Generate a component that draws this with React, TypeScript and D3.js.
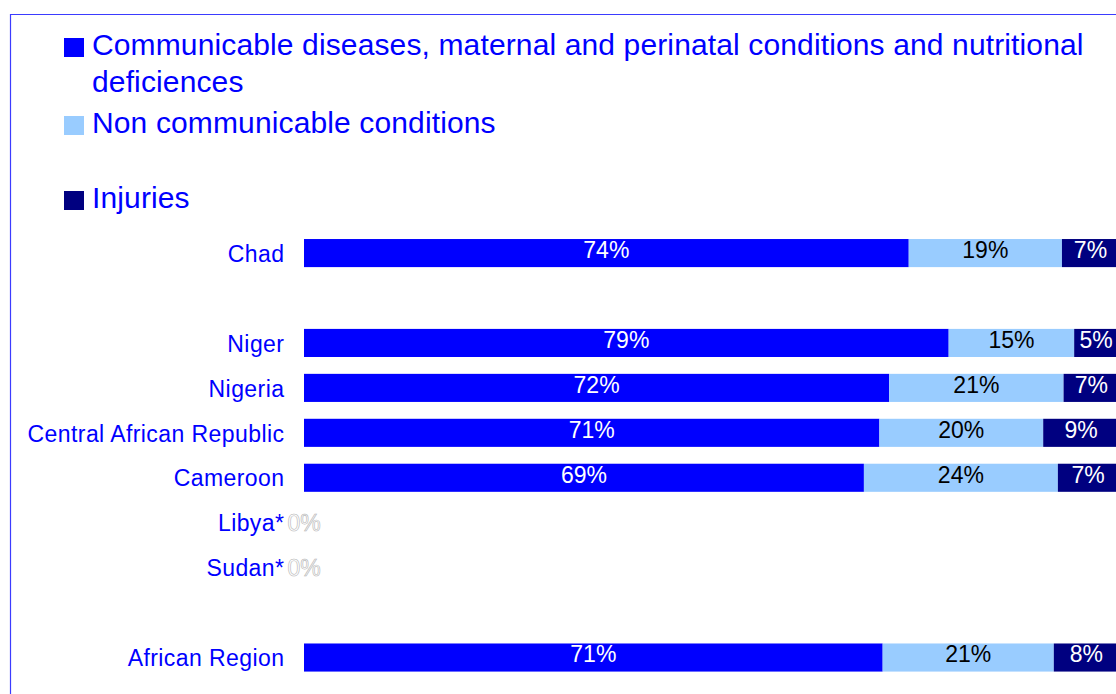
import React from "react";
import * as d3 from "d3";

const categories = ["Chad", "gap1", "Niger", "Nigeria", "Central African Republic", "Cameroon", "Libya*", "Sudan*", "gap2", "African Region"];
const communicable = [74.2, null, 79.1, 71.8, 70.6, 68.7, 0, 0, null, 71.0];
const nonCommunicable = [18.8, null, 15.4, 21.4, 20.1, 23.8, 0, 0, null, 21.0];
const injuries = [7.0, null, 5.4, 6.8, 9.3, 7.4, 0, 0, null, 8.0];
const seriesNames = [
  ["Communicable diseases, maternal and perinatal conditions and nutritional", "deficiences"],
  ["Non communicable conditions"],
  ["Injuries"],
];
const colors = ["#0000ff", "#99ccff", "#000080"];
const labelColors = ["#ffffff", "#000000", "#ffffff"];

const W = 1116;
const H = 694;
const FONT = "'Liberation Sans', Arial, sans-serif";

export default function App() {
  const x = d3.scaleLinear().domain([0, 100]).range([304, 1119]);
  const y = d3.scaleBand().domain(categories).range([230.6, 680.0]).paddingInner(0.375).paddingOuter(0.1875);
  const series = [communicable, nonCommunicable, injuries];
  const legendY = [55, 133, 208];

  return (
    <svg width={W} height={H} style={{ position: "absolute", left: 0, top: 0 }} fontFamily={FONT}>
      <rect width={W} height={H} fill="#ffffff" />
      <line x1={10} x2={W + 5} y1={14.5} y2={14.5} stroke="#3b3bff" strokeWidth={1.2} />
      <line x1={10.5} x2={10.5} y1={14} y2={H + 5} stroke="#3b3bff" strokeWidth={1.2} />
      {seriesNames.map((lines, i) => (
        <g key={i}>
          <rect x={64} y={legendY[i] - 17} width={20} height={19} fill={colors[i]} />
          {lines.map((t, j) => (
            <text key={j} x={92} y={legendY[i] + j * 36.5} fontSize={30} letterSpacing={0.13} fill="#0000ff">{t}</text>
          ))}
        </g>
      ))}
      {categories.map((c, ci) => {
        if (c.startsWith("gap")) return null;
        const yc = (y(c) as number) + y.bandwidth() / 2;
        const vals = series.map((s) => s[ci] as number);
        const total = d3.sum(vals);
        let acc = 0;
        const segs = vals.map((v, si) => {
          const s = { x0: acc, x1: acc + v, si, v };
          acc += v;
          return s;
        });
        return (
          <g key={c}>
            <text x={284.4} y={yc + 8.7} textAnchor="end" fontSize={23} letterSpacing={0.42} fill="#0000ff">{c}</text>
            {total === 0 ? (
              <text x={x(0)} y={yc + 8.7} textAnchor="middle" fontSize={23} fill="#ffffff" stroke="#b4b4b4" strokeWidth={0.6}>0%</text>
            ) : (
              segs.map((s) => (
                <g key={s.si}>
                  <rect x={x(s.x0)} y={y(c)} width={x(s.x1) - x(s.x0)} height={y.bandwidth()} fill={colors[s.si]} />
                  <text x={(x(s.x0) + x(s.x1)) / 2} y={yc + 4.8} textAnchor="middle" fontSize={23} fill={labelColors[s.si]}>
                    {d3.format(".0f")(s.v)}%
                  </text>
                </g>
              ))
            )}
          </g>
        );
      })}
    </svg>
  );
}
